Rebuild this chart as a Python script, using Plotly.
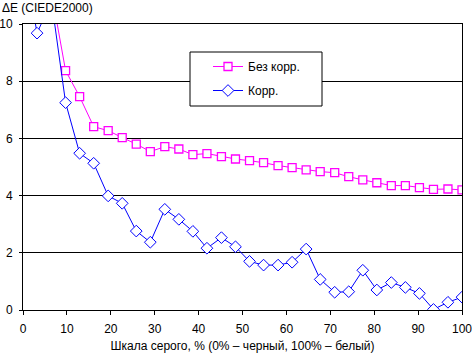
import plotly.graph_objects as go

x_vals = [0, 3.2, 6.5, 9.7, 12.9, 16.1, 19.4, 22.6, 25.8, 29.0, 32.3, 35.5, 38.7, 41.9,
          45.2, 48.4, 51.6, 54.8, 58.1, 61.3, 64.5, 67.7, 71.0, 74.2, 77.4, 80.6, 83.9,
          87.1, 90.3, 93.5, 96.8, 100]
no_corr = [14.0, 12.5, 11.1, 8.37, 7.46, 6.41, 6.27, 6.03, 5.80, 5.54, 5.71, 5.63, 5.43,
           5.47, 5.36, 5.28, 5.22, 5.15, 5.05, 4.98, 4.90, 4.84, 4.80, 4.66, 4.55, 4.45,
           4.35, 4.35, 4.28, 4.22, 4.23, 4.20]
corr = [12.5, 9.68, 10.8, 7.25, 5.48, 5.13, 3.99, 3.73, 2.76, 2.37, 3.52, 3.17, 2.75,
        2.16, 2.53, 2.21, 1.70, 1.57, 1.57, 1.67, 2.13, 1.07, 0.62, 0.64, 1.39, 0.70,
        0.96, 0.79, 0.58, 0.02, 0.27, 0.45]
names = ["Без корр.", "Корр."]
x_ticks = [0, 10, 20, 30, 40, 50, 60, 70, 80, 90, 100]
y_ticks = [0, 2, 4, 6, 8, 10]

FONT = "Liberation Sans, Arial, sans-serif"

fig = go.Figure()
fig.add_trace(go.Scatter(
    x=x_vals, y=no_corr, name=names[0], mode="lines+markers", legendgroup="a",
    line=dict(color="#FF00FF", width=1),
    marker=dict(symbol="square", size=8, color="white",
                line=dict(color="#FF00FF", width=1.3)),
))
fig.add_trace(go.Scatter(
    x=x_vals, y=corr, name=names[1], mode="lines+markers", legendgroup="b",
    line=dict(color="#0000FF", width=1),
    marker=dict(symbol="diamond", size=9, color="white",
                line=dict(color="#0000FF", width=1)),
))

# legend frame
fig.add_shape(type="rect", xref="paper", yref="paper",
              x0=(190 - 23) / 439, x1=(322 - 23) / 439,
              y0=(310 - 106) / 286, y1=(310 - 52) / 286,
              line=dict(color="black", width=1), fillcolor="white", layer="above")

fig.add_annotation(text="ΔE (CIEDE2000)", xref="paper", yref="paper",
                   x=-23 / 439, y=(310 + 1) / 286, xanchor="left", yanchor="top",
                   showarrow=False, font=dict(family=FONT, size=12, color="black"))

fig.update_layout(
    width=472, height=353,
    margin=dict(l=23, r=10, t=24, b=43),
    paper_bgcolor="white", plot_bgcolor="white",
    font=dict(family=FONT, size=12, color="black"),
    showlegend=True,
    legend=dict(x=(208 - 23) / 439, y=(310 - 52) / 286, xanchor="left", yanchor="top",
                bgcolor="rgba(0,0,0,0)", borderwidth=0, tracegroupgap=5,
                itemwidth=30,
                traceorder="grouped", font=dict(family=FONT, size=12, color="black")),
    xaxis=dict(range=[0, 100], tickvals=x_ticks, showgrid=False, zeroline=False,
               showline=True, linecolor="black", linewidth=1, mirror=True,
               ticks="outside", ticklen=4, tickcolor="black",
               ticklabelstandoff=4, automargin=False, ticklabeloverflow="allow",
               title=dict(text="Шкала серого, % (0% – черный, 100% – белый)",
                          standoff=7, font=dict(family=FONT, size=12))),
    yaxis=dict(range=[0, 10], tickvals=y_ticks, showgrid=True, gridcolor="black",
               gridwidth=1, zeroline=False, showline=True, linecolor="black",
               linewidth=1, mirror=True, ticks="outside", ticklen=3, automargin=False,
               tickcolor="black", ticklabelstandoff=4, ticklabeloverflow="allow"),
)

fig.write_html("out.html")
